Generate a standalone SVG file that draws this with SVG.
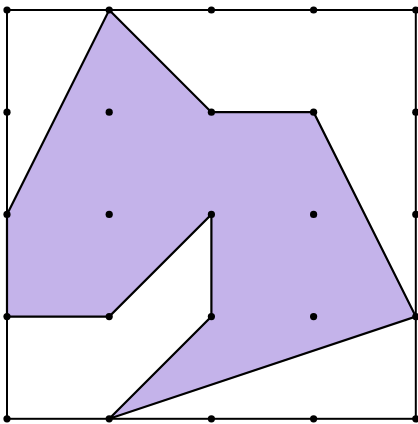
<svg xmlns="http://www.w3.org/2000/svg" width="418" height="424" viewBox="0 0 418 424">
<style>
.frame{fill:none;stroke:#000;stroke-width:2}
.shape{fill:#c4b3ea;stroke:#000;stroke-width:2.2;stroke-linejoin:miter}
.dot{fill:#000}
</style>
<rect width="418" height="424" fill="#fff"/>
<g id="polygon">
<polygon class="shape" points="109.2,10 211.4,112.2 313.6,112.2 415.8,316.6 109.2,418.8 211.4,316.6 211.4,214.4 109.2,316.6 7,316.6 7,214.4"/>
</g>
<g id="frame">
<rect class="frame" x="7" y="10" width="408.8" height="408.8"/>
</g>
<g id="dots" class="dot">
<circle cx="7" cy="10" r="3.6"/><circle cx="109.2" cy="10" r="3.6"/><circle cx="211.4" cy="10" r="3.6"/><circle cx="313.6" cy="10" r="3.6"/><circle cx="415.8" cy="10" r="3.6"/>
<circle cx="7" cy="112.2" r="3.6"/><circle cx="109.2" cy="112.2" r="3.6"/><circle cx="211.4" cy="112.2" r="3.6"/><circle cx="313.6" cy="112.2" r="3.6"/><circle cx="415.8" cy="112.2" r="3.6"/>
<circle cx="7" cy="214.4" r="3.6"/><circle cx="109.2" cy="214.4" r="3.6"/><circle cx="211.4" cy="214.4" r="3.6"/><circle cx="313.6" cy="214.4" r="3.6"/><circle cx="415.8" cy="214.4" r="3.6"/>
<circle cx="7" cy="316.6" r="3.6"/><circle cx="109.2" cy="316.6" r="3.6"/><circle cx="211.4" cy="316.6" r="3.6"/><circle cx="313.6" cy="316.6" r="3.6"/><circle cx="415.8" cy="316.6" r="3.6"/>
<circle cx="7" cy="418.8" r="3.6"/><circle cx="109.2" cy="418.8" r="3.6"/><circle cx="211.4" cy="418.8" r="3.6"/><circle cx="313.6" cy="418.8" r="3.6"/><circle cx="415.8" cy="418.8" r="3.6"/>
</g>
</svg>
